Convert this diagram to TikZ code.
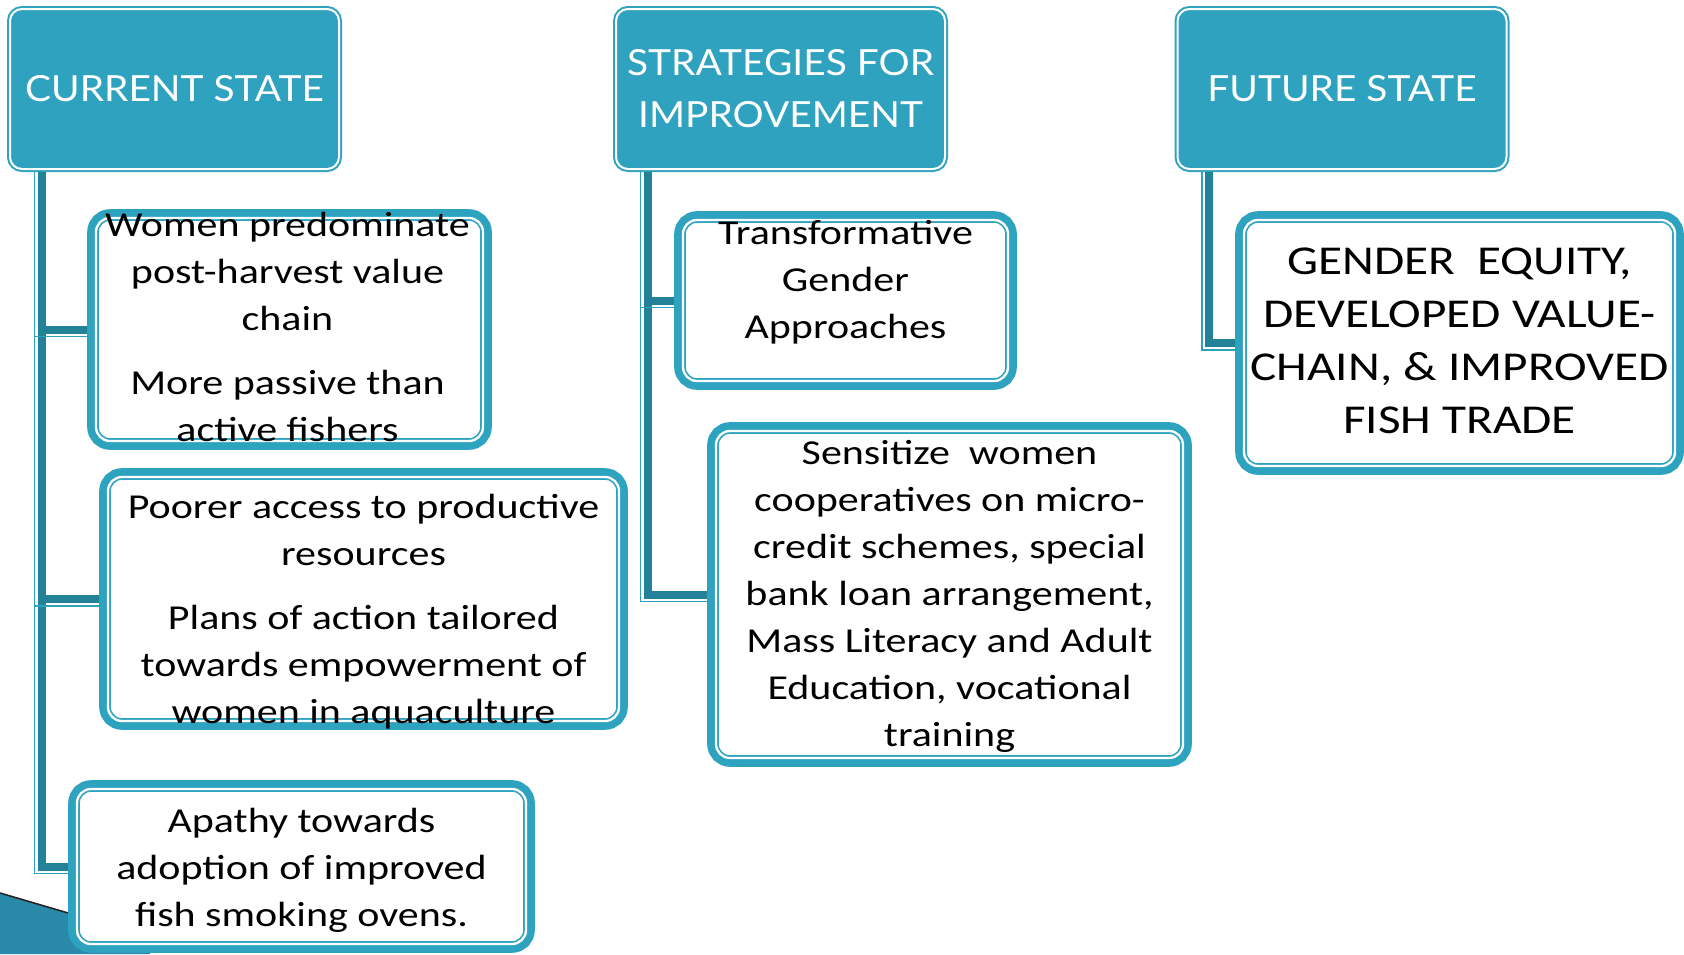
\documentclass[tikz,border=0pt]{standalone}
\usepackage{fontspec}
\setmainfont[FakeStretch=1.2]{Carlito}
\newfontfamily\headfont[FakeStretch=1.08]{Lato}
\definecolor{headteal}{RGB}{46,162,191}
\definecolor{boxteal}{RGB}{46,163,192}
\definecolor{linkteal}{RGB}{35,130,152}
\definecolor{decoteal}{RGB}{40,138,168}

\begin{document}
\begin{tikzpicture}[x=0.5pt,y=-0.5pt]
        \tikzset{headbox/.style = {shape=rectangle,rounded corners=6pt,fill=headteal,preaction={draw=headteal,line width=3pt},postaction={draw=white,line width=1pt},minimum width=164.5pt,minimum height=80pt,inner sep=0pt,align=center,text=white,font=\headfont\fontsize{18}{26}\selectfont}}
        \tikzset{itembox/.style = {shape=rectangle,rounded corners=7pt,fill=white,preaction={draw=boxteal,line width=8.8pt},postaction={draw=boxteal,line width=2.85pt},postaction={draw=white,line width=1.15pt},inner sep=0pt}}
        \tikzset{itemtext/.style = {align=center,inner sep=0pt,font=\fontsize{17.5}{23.5}\selectfont}}
        \tikzset{link/.style = {draw=linkteal,line width=4pt}}
        \tikzset{linkedge/.style = {draw=boxteal,line width=0.8pt}}
        \useasboundingbox (0,0) rectangle (1684,954);
        % slide corner
        \fill[decoteal] (0,893) -- (150,937) -- (150,954) -- (0,954) -- cycle;
        \draw[black!85,line width=0.8pt] (0,893) -- (150,937);
        % column heads
        \node[headbox] (cur) at (174.5,89) {CURRENT STATE};
        \node[headbox] (strat) at (780.5,89) {STRATEGIES FOR\\IMPROVEMENT};
        \node[headbox] (fut) at (1342,89) {FUTURE STATE};
        \coordinate (cur-v) at ([xshift=16pt,yshift=-1.5pt]cur.south west);
        \coordinate (strat-v) at ([xshift=16pt,yshift=-1.5pt]strat.south west);
        \coordinate (fut-v) at ([xshift=16pt,yshift=-1.5pt]fut.south west);
        % boxes (only placed here, drawn later)
        \path (289.5,329.5) coordinate (women-c);
        \path (363.5,599) coordinate (access-c);
        \path (301.5,866.5) coordinate (apathy-c);
        \path (845.5,300.5) coordinate (transform-c);
        \path (949.5,594.5) coordinate (sensitize-c);
        \path (1459.5,343) coordinate (equity-c);
        % connectors
        \draw[linkedge] ([xshift=-3.5pt]cur-v) |- ([xshift=-100pt,yshift=-3.5pt]apathy-c);
        \draw[link] (cur-v) |- ([xshift=-113pt]apathy-c);
        \draw[linkedge] ([xshift=-3.5pt]cur-v) |- ([xshift=-120pt,yshift=-3.5pt]access-c);
        \draw[link] (cur-v) |- ([xshift=-128.5pt]access-c);
        \draw[linkedge] ([xshift=-3.5pt]cur-v) |- ([xshift=-90pt,yshift=-3.5pt]women-c);
        \draw[link] (cur-v) |- ([xshift=-97.5pt]women-c);
        \draw[linkedge] ([xshift=-3.5pt]strat-v) |- ([xshift=-110pt,yshift=-3.5pt]sensitize-c);
        \draw[link] (strat-v) |- ([xshift=-117.5pt]sensitize-c);
        \draw[linkedge] ([xshift=-3.5pt]strat-v) |- ([xshift=-75pt,yshift=-3.5pt]transform-c);
        \draw[link] (strat-v) |- ([xshift=-82pt]transform-c);
        \draw[linkedge] ([xshift=-3.5pt]fut-v) |- ([xshift=-100pt,yshift=-3.5pt]equity-c);
        \draw[link] (fut-v) |- ([xshift=-108pt]equity-c);
        % boxes
        \node[itembox,minimum width=193.5pt,minimum height=111.5pt] (women) at (women-c) {};
        \node[itembox,minimum width=255.5pt,minimum height=122pt] (access) at (access-c) {};
        \node[itembox,minimum width=224.5pt,minimum height=77.5pt] (apathy) at (apathy-c) {};
        \node[itembox,minimum width=162.5pt,minimum height=80.5pt] (transform) at (transform-c) {};
        \node[itembox,minimum width=233.5pt,minimum height=163.5pt] (sensitize) at (sensitize-c) {};
        \node[itembox,minimum width=215.5pt,minimum height=123pt] (equity) at (equity-c) {};
        % texts
        \node[itemtext] (women-txt) at (287.5,327) {Women predominate\\post-harvest value\\chain\\[8.5pt]More passive than\\active fishers};
        \node[itemtext] (access-txt) at (363.5,612) {Poorer access to productive\\resources\\[8.5pt]Plans of action tailored\\towards empowerment of\\women in aquaculture};
        \node[itemtext] (apathy-txt) at (301.5,870) {Apathy towards\\adoption of improved\\fish smoking ovens.};
        \node[itemtext] (transform-txt) at (845.5,282) {Transformative\\Gender\\Approaches};
        \node[itemtext] (sensitize-txt) at (949.5,596) {Sensitize\ \ women\\cooperatives on micro-\\credit schemes, special\\bank loan arrangement,\\Mass Literacy and Adult\\Education, vocational\\training};
        \node[itemtext,font=\fontsize{20.5}{26.4}\selectfont] (equity-txt) at (1459.5,341) {GENDER\ \ EQUITY,\\DEVELOPED VALUE-\\CHAIN, \& IMPROVED\\FISH TRADE};
    \end{tikzpicture}
\end{document}
